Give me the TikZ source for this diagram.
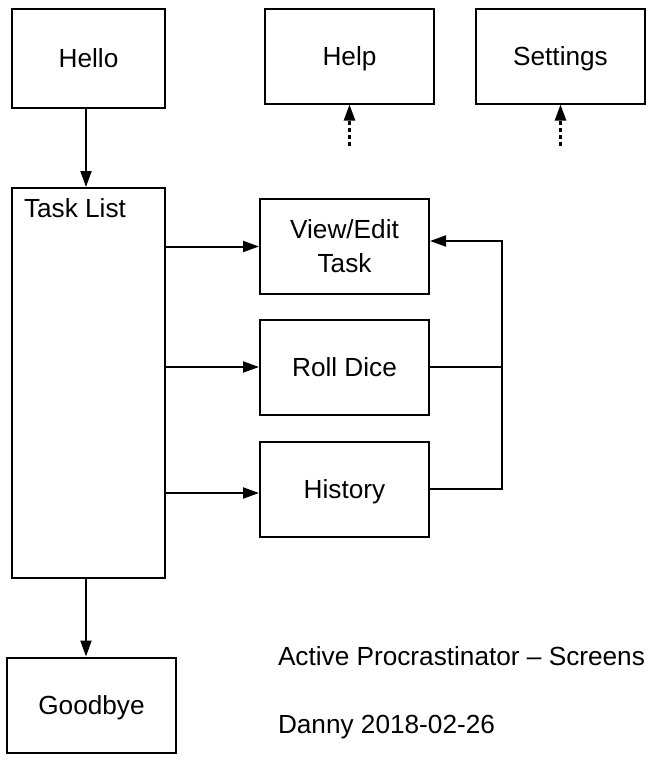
\documentclass[tikz,border=0pt]{standalone}
\usepackage{fontspec}
\setmainfont{Liberation Sans}
\usetikzlibrary{
    arrows.meta,
    positioning
}

\begin{document}
\begin{tikzpicture}[x=1pt, y=-1pt, line width=2pt,
    font=\fontsize{26.2}{34}\selectfont,
    screen/.style={draw=black, inner sep=0pt, minimum width=169pt, minimum height=95pt, align=center,
        text height=18.8pt, text depth=0pt},
    note/.style={inner sep=0pt, anchor=base west},
    link/.style={-{Triangle[length=16pt, width=11pt]}},
    stub/.style={link, line width=2.4pt, dash pattern=on 4pt off 3pt}]
    \useasboundingbox (0,0) rectangle (661,763);

    % screens
    \node[screen, minimum width=153pt, minimum height=99pt] (hello) at (88.5,58.5) {Hello};
    \node[screen] (help) at (349.5,56) {Help};
    \node[screen] (settings) at (560.5,56) {Settings};
    \node[screen, minimum width=153pt, minimum height=390pt] (tasks) at (88.5,383) {};
    \node[note] (taskname) at (23,217) {Task List};
    \node[screen, text height=52.8pt] (view) at (344.5,246.5) {View/Edit\\Task};
    \node[screen] (roll) at (344.5,367) {Roll Dice};
    \node[screen] (history) at (344.5,489) {History};
    \node[screen] (goodbye) at (91.5,705) {Goodbye};

    \node[note] (title) at (277,665) {Active Procrastinator – Screens};
    \node[note] (author) at (277,733) {Danny 2018-02-26};

    \coordinate (helpstub) at (349.5,146);
    \coordinate (settingsstub) at (560.5,146);
    \coordinate (bus) at (502,489);

    \draw[link] (hello.south -| 86,0) -- (tasks.north -| 86,0);
    \draw[link] (tasks.south -| 86,0) -- (goodbye.north -| 86,0);
    \draw[link] (tasks.east |- view.west) -- (view.west);
    \draw[link] (tasks.east |- roll.west) -- (roll.west);
    \draw[link] ([yshift=-4pt]tasks.east |- history.west) -- ([yshift=-4pt]history.west);
    \draw[link] (history.east) -- (bus) |- ([yshift=5.5pt]view.east);
    \draw (roll.east) -- (roll.east -| bus);
    \draw[stub] (helpstub) -- (help.south);
    \draw[stub] (settingsstub) -- (settings.south);
\end{tikzpicture}
\end{document}
